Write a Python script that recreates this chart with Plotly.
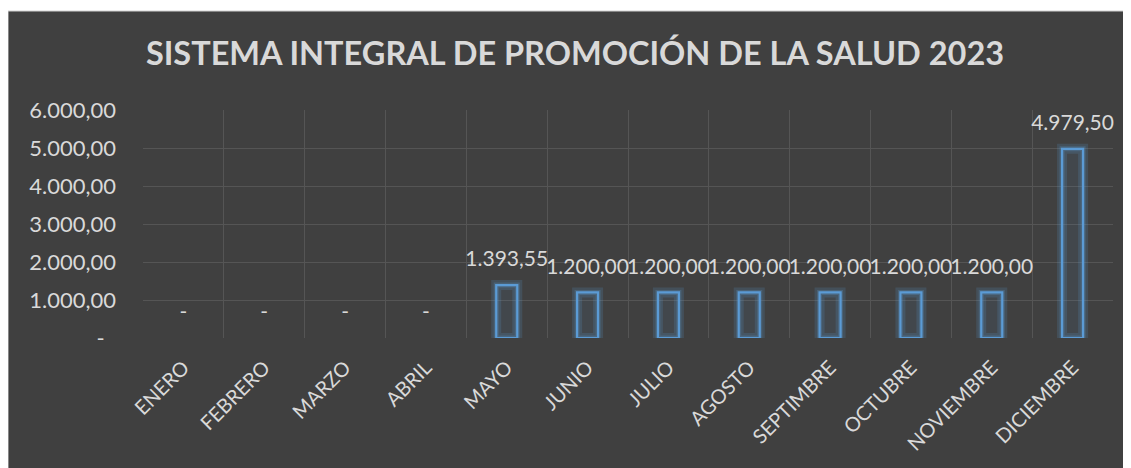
import plotly.graph_objects as go

months = ["ENERO", "FEBRERO", "MARZO", "ABRIL", "MAYO", "JUNIO", "JULIO",
          "AGOSTO", "SEPTIMBRE", "OCTUBRE", "NOVIEMBRE", "DICIEMBRE"]
values = [0, 0, 0, 0, 1393.55, 1200.00, 1200.00, 1200.00, 1200.00, 1200.00, 1200.00, 4979.50]
y_ticks = [0, 1000, 2000, 3000, 4000, 5000, 6000]
title_text = "SISTEMA INTEGRAL DE PROMOCIÓN DE LA SALUD 2023"


def es(v):
    if v == 0:
        return "-"
    s = f"{v:,.2f}"
    return s.replace(",", "X").replace(".", ",").replace("X", ".")


labels = [es(v) for v in values]
tick_text = [es(v) if v else "-\u00a0\u00a0" for v in y_ticks]
bar_vals = [v if v else None for v in values]

FONT = "Lato"
TXT = "#D9D9D9"
BLUE = "#5B9BD5"

W, H = 1123, 460

fig = go.Figure()

# glow
fig.add_trace(go.Bar(
    x=months, y=bar_vals, width=0.26,
    marker=dict(color="rgba(91,155,213,0.08)",
                line=dict(color="rgba(91,155,213,0.18)", width=10)),
    hoverinfo="skip", showlegend=False,
))
fig.add_trace(go.Bar(
    x=months, y=bar_vals, width=0.26,
    marker=dict(color="rgba(0,0,0,0)",
                line=dict(color="rgba(91,155,213,0.25)", width=5)),
    hoverinfo="skip", showlegend=False,
))
# main outlined bars
fig.add_trace(go.Bar(
    x=months, y=bar_vals, width=0.26,
    marker=dict(color="rgba(0,0,0,0)", line=dict(color=BLUE, width=2.2)),
    showlegend=False,
))
# data labels
fig.add_trace(go.Scatter(
    x=months, y=values, mode="markers+text", text=labels,
    textposition="top center",
    marker=dict(size=20, opacity=0),
    textfont=dict(family=FONT, size=21, color=TXT),
    hoverinfo="skip", showlegend=False, cliponaxis=False,
))

fig.update_layout(
    width=W, height=H, autosize=False,
    margin=dict(l=135, r=18, t=102, b=130),
    paper_bgcolor="white",
    plot_bgcolor="rgba(0,0,0,0)",
    barmode="overlay",
    font=dict(family=FONT, color=TXT),
    title=dict(text=f"<b>{title_text}</b>", x=567 / W, xanchor="center",
               y=1 - 46 / H, yanchor="middle",
               font=dict(family=FONT, size=32.5, color=TXT)),
    shapes=[dict(type="rect", xref="paper", yref="paper",
                 x0=-135 / 970, x1=1.03, y0=-0.6, y1=(330 - 3) / 228,
                 fillcolor="#404040", line=dict(color="#D0D0D0", width=1),
                 layer="below")],
)
fig.update_xaxes(
    type="category", tickson="boundaries", showgrid=True,
    gridcolor="#555555", gridwidth=1, ticks="",
    tickangle=-45, tickfont=dict(family=FONT, size=20, color=TXT),
    range=[-0.5, 11.5], showline=False, zeroline=False,
    ticklabelstandoff=13,
)
fig.update_yaxes(
    range=[0, 6000], tickvals=y_ticks, ticktext=tick_text,
    showgrid=True, gridcolor="#555555", gridwidth=1, zeroline=False,
    tickfont=dict(family=FONT, size=22, color=TXT), ticks="",
    ticklabelstandoff=26,
)

fig.write_html("out.html")
